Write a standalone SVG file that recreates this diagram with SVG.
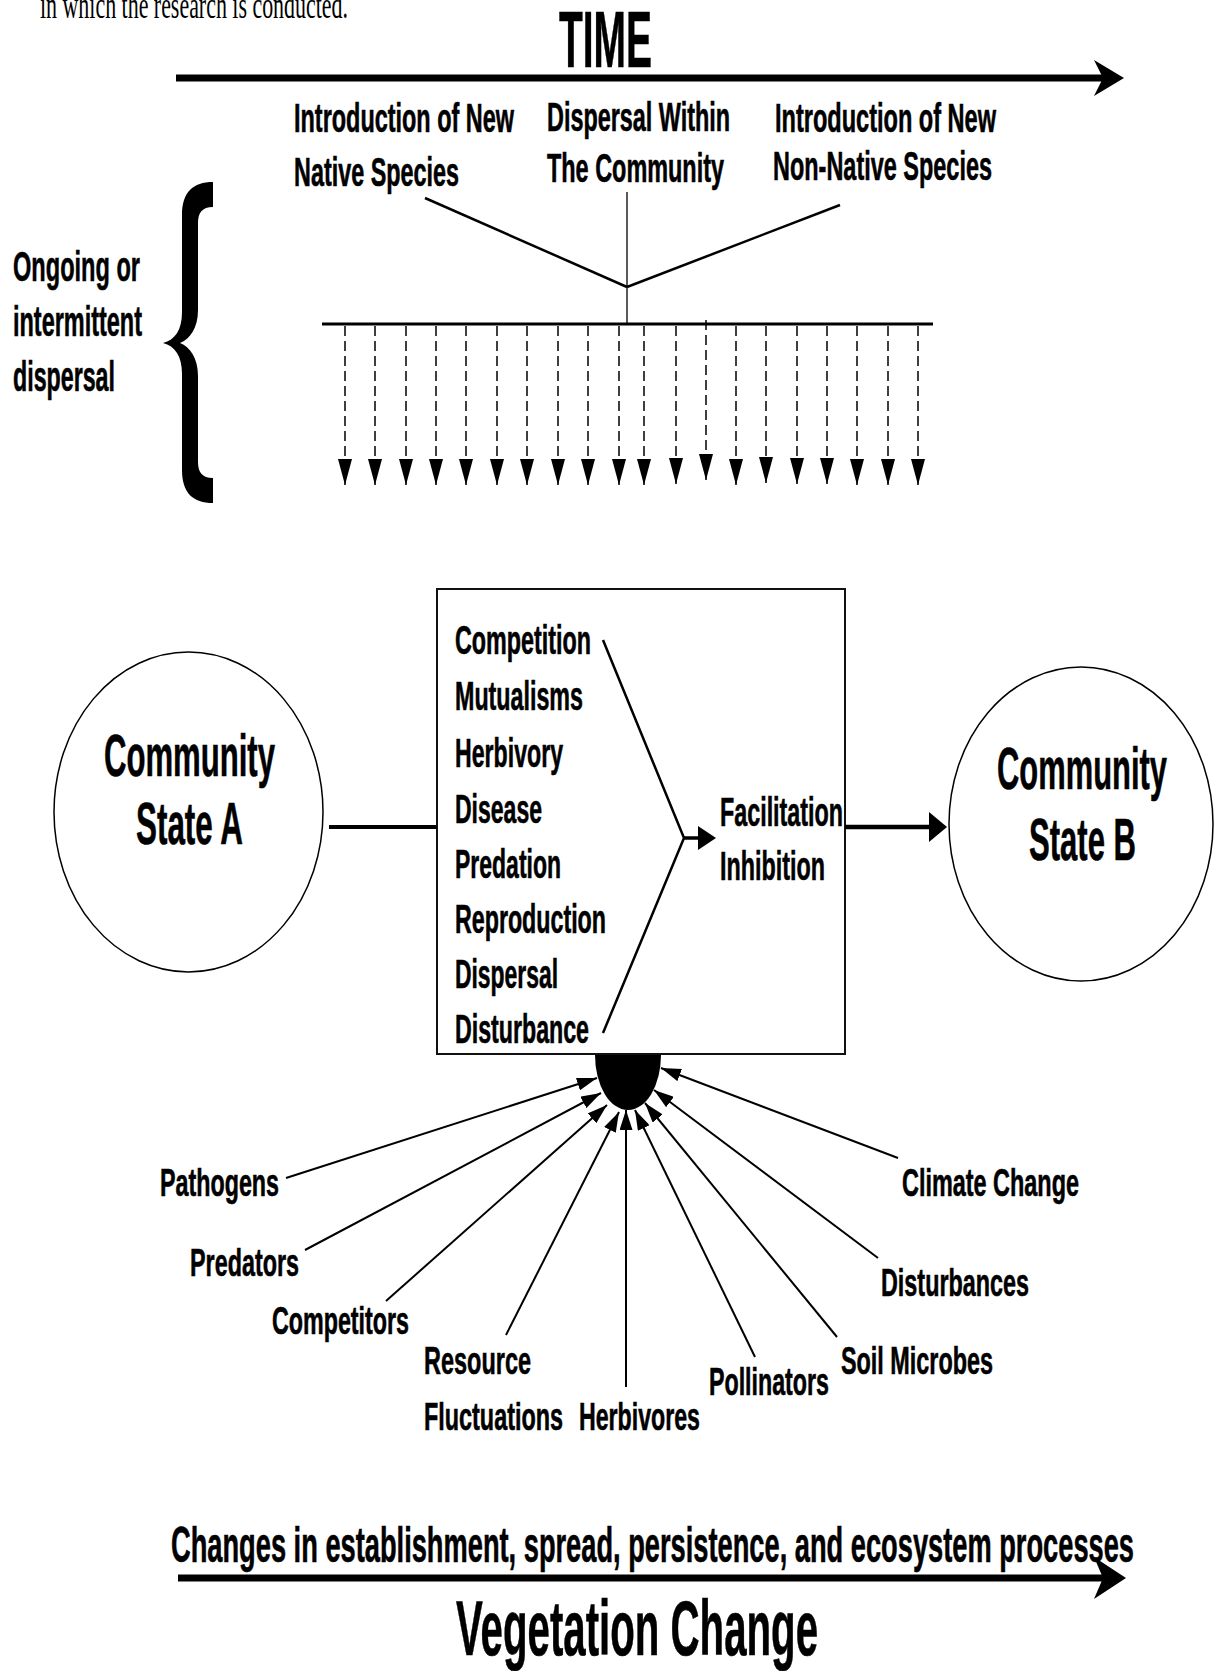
<svg xmlns="http://www.w3.org/2000/svg" width="1222" height="1671" viewBox="0 0 1222 1671">
<defs>
<style>
.t{font-family:"Liberation Sans",Arial,sans-serif;font-weight:bold;fill:#000;stroke:#000;stroke-width:0.6}
.m{font-size:40px}
.f{font-size:39px}
.big{font-size:59px}
.ln{stroke:#000;fill:none}
.dash{stroke:#000;stroke-width:1.5;stroke-dasharray:10 5;fill:none}
</style>
<marker id="dh" markerUnits="userSpaceOnUse" markerWidth="26" markerHeight="14" refX="26" refY="7" orient="auto">
<path d="M0,0 L26,7 L0,14 Z" fill="#000"/>
</marker>
<marker id="fh" markerUnits="userSpaceOnUse" markerWidth="20" markerHeight="13" refX="20" refY="6.5" orient="auto">
<path d="M0,0 L20,6.5 L0,13 Z" fill="#000"/>
</marker>
</defs>
<rect width="1222" height="1671" fill="#fff"/>

<text x="40" y="18" font-family="'Liberation Serif',serif" font-size="38" textLength="308" lengthAdjust="spacingAndGlyphs">in which the research is conducted.</text>

<g id="time">
<text class="t" x="559" y="67" font-size="79" textLength="93" lengthAdjust="spacingAndGlyphs">TIME</text>
<line x1="176" y1="78" x2="1104" y2="78" stroke="#000" stroke-width="7"/>
<polygon points="1094,60 1124,78 1094,96 1103,78" fill="#000"/>
</g>

<g id="source-native">
<text class="t m" x="294" y="132" textLength="220" lengthAdjust="spacingAndGlyphs">Introduction of New</text>
<text class="t m" x="294" y="186" textLength="165" lengthAdjust="spacingAndGlyphs">Native Species</text>
</g>
<g id="source-within">
<text class="t m" x="547" y="131" textLength="183" lengthAdjust="spacingAndGlyphs">Dispersal Within</text>
<text class="t m" x="547" y="182" textLength="177" lengthAdjust="spacingAndGlyphs">The Community</text>
</g>
<g id="source-nonnative">
<text class="t m" x="775" y="132" textLength="221" lengthAdjust="spacingAndGlyphs">Introduction of New</text>
<text class="t m" x="773" y="180" textLength="219" lengthAdjust="spacingAndGlyphs">Non-Native Species</text>
</g>

<g id="ongoing">
<text class="t" font-size="43" x="13" y="281" textLength="127" lengthAdjust="spacingAndGlyphs">Ongoing or</text>
<text class="t" font-size="43" x="13" y="336" textLength="129" lengthAdjust="spacingAndGlyphs">intermittent</text>
<text class="t" font-size="43" x="13" y="391" textLength="102" lengthAdjust="spacingAndGlyphs">dispersal</text>
<path d="M213 182 C193 182 182 192 182 215 L182 312 C182 330 175 340 163 343 C175 346 182 356 182 374 L182 470 C182 493 193 503 213 503 L213 478 C202 478 198 472 198 462 L198 376 C198 358 190 347 180 343 C190 339 198 328 198 310 L198 223 C198 213 202 207 213 207 Z" fill="#000"/>
</g>

<g id="dispersal-connectors">
<line class="ln" x1="425" y1="198" x2="627" y2="287" stroke-width="2.5"/>
<line class="ln" x1="840" y1="205" x2="627" y2="287" stroke-width="2.5"/>
<line class="ln" x1="627" y1="192" x2="627" y2="324" stroke-width="1.3"/>
<line class="ln" x1="322" y1="324" x2="933" y2="324" stroke-width="3"/>
<g marker-end="url(#dh)">
<line class="dash" x1="345" y1="326" x2="345" y2="485"/>
<line class="dash" x1="375" y1="326" x2="375" y2="485"/>
<line class="dash" x1="406" y1="326" x2="406" y2="485"/>
<line class="dash" x1="436" y1="326" x2="436" y2="485"/>
<line class="dash" x1="466" y1="326" x2="466" y2="485"/>
<line class="dash" x1="497" y1="326" x2="497" y2="485"/>
<line class="dash" x1="527" y1="326" x2="527" y2="485"/>
<line class="dash" x1="558" y1="326" x2="558" y2="485"/>
<line class="dash" x1="588" y1="326" x2="588" y2="485"/>
<line class="dash" x1="619" y1="326" x2="619" y2="485"/>
<line class="dash" x1="644" y1="326" x2="644" y2="485"/>
<line class="dash" x1="676" y1="326" x2="676" y2="484"/>
<line class="dash" x1="706" y1="320" x2="706" y2="480"/>
<line class="dash" x1="736" y1="326" x2="736" y2="485"/>
<line class="dash" x1="766" y1="326" x2="766" y2="483"/>
<line class="dash" x1="797" y1="326" x2="797" y2="484"/>
<line class="dash" x1="827" y1="326" x2="827" y2="484"/>
<line class="dash" x1="857" y1="326" x2="857" y2="485"/>
<line class="dash" x1="888" y1="326" x2="888" y2="485"/>
<line class="dash" x1="918" y1="326" x2="918" y2="485"/>
</g>
</g>

<g id="state-a">
<ellipse cx="188.5" cy="812" rx="134.5" ry="160" fill="#fff" stroke="#000" stroke-width="1.5"/>
<text class="t big" x="104" y="776" textLength="171" lengthAdjust="spacingAndGlyphs">Community</text>
<text class="t big" x="136" y="844" textLength="107" lengthAdjust="spacingAndGlyphs">State A</text>
</g>

<g id="state-b">
<ellipse cx="1081" cy="824" rx="132" ry="157" fill="#fff" stroke="#000" stroke-width="1.5"/>
<text class="t big" x="997" y="789" textLength="170" lengthAdjust="spacingAndGlyphs">Community</text>
<text class="t big" x="1029" y="860" textLength="107" lengthAdjust="spacingAndGlyphs">State B</text>
</g>

<g id="interactions">
<rect x="437" y="589" width="408" height="465" fill="#fff" stroke="#111" stroke-width="2"/>
<text class="t m" x="455" y="654" textLength="136" lengthAdjust="spacingAndGlyphs">Competition</text>
<text class="t m" x="455" y="710" textLength="128" lengthAdjust="spacingAndGlyphs">Mutualisms</text>
<text class="t m" x="455" y="767" textLength="108" lengthAdjust="spacingAndGlyphs">Herbivory</text>
<text class="t m" x="455" y="823" textLength="87" lengthAdjust="spacingAndGlyphs">Disease</text>
<text class="t m" x="455" y="878" textLength="106" lengthAdjust="spacingAndGlyphs">Predation</text>
<text class="t m" x="455" y="933" textLength="151" lengthAdjust="spacingAndGlyphs">Reproduction</text>
<text class="t m" x="455" y="988" textLength="103" lengthAdjust="spacingAndGlyphs">Dispersal</text>
<text class="t m" x="455" y="1043" textLength="134" lengthAdjust="spacingAndGlyphs">Disturbance</text>
<text class="t m" x="720" y="826" textLength="123" lengthAdjust="spacingAndGlyphs">Facilitation</text>
<text class="t m" x="720" y="880" textLength="105" lengthAdjust="spacingAndGlyphs">Inhibition</text>
<path d="M603 640 L684 838 L603 1033" class="ln" stroke-width="2.5"/>
<line x1="684" y1="838" x2="700" y2="838" stroke="#000" stroke-width="3.5"/>
<polygon points="698,826 716,838 698,850" fill="#000"/>
</g>

<g id="blob">
<path d="M595 1055 A33 55 0 0 0 661 1055 Z" fill="#000"/>
</g>

<g id="connectors">
<line x1="329" y1="827" x2="437" y2="827" stroke="#000" stroke-width="4"/>
<line x1="845" y1="827" x2="931" y2="827" stroke="#000" stroke-width="4.5"/>
<polygon points="929,812 947,827 929,842" fill="#000"/>
<g class="ln" stroke-width="2" marker-end="url(#fh)">
<line x1="286" y1="1178" x2="597" y2="1078"/>
<line x1="305" y1="1250" x2="601" y2="1093"/>
<line x1="386" y1="1301" x2="607" y2="1105"/>
<line x1="506" y1="1335" x2="619" y2="1112"/>
<line x1="626" y1="1387" x2="626" y2="1110"/>
<line x1="755" y1="1357" x2="635" y2="1110"/>
<line x1="837" y1="1337" x2="645" y2="1103"/>
<line x1="878" y1="1258" x2="654" y2="1090"/>
<line x1="898" y1="1158" x2="661" y2="1068"/>
</g>
</g>

<g id="factors">
<text class="t f" x="160" y="1196" textLength="119" lengthAdjust="spacingAndGlyphs">Pathogens</text>
<text class="t f" x="190" y="1276" textLength="109" lengthAdjust="spacingAndGlyphs">Predators</text>
<text class="t f" x="272" y="1334" textLength="137" lengthAdjust="spacingAndGlyphs">Competitors</text>
<text class="t f" x="424" y="1374" textLength="107" lengthAdjust="spacingAndGlyphs">Resource</text>
<text class="t f" x="424" y="1430" textLength="139" lengthAdjust="spacingAndGlyphs">Fluctuations</text>
<text class="t f" x="579" y="1430" textLength="121" lengthAdjust="spacingAndGlyphs">Herbivores</text>
<text class="t f" x="709" y="1395" textLength="120" lengthAdjust="spacingAndGlyphs">Pollinators</text>
<text class="t f" x="841" y="1374" textLength="152" lengthAdjust="spacingAndGlyphs">Soil Microbes</text>
<text class="t f" x="881" y="1296" textLength="148" lengthAdjust="spacingAndGlyphs">Disturbances</text>
<text class="t f" x="902" y="1196" textLength="177" lengthAdjust="spacingAndGlyphs">Climate Change</text>
</g>

<g id="vegetation">
<text class="t" font-size="50" x="171" y="1562" textLength="963" lengthAdjust="spacingAndGlyphs">Changes in establishment, spread, persistence, and ecosystem processes</text>
<line x1="178" y1="1578" x2="1104" y2="1578" stroke="#000" stroke-width="7"/>
<polygon points="1094,1557 1126,1578 1094,1599 1103,1578" fill="#000"/>
<text class="t" font-size="78" x="456" y="1655" textLength="362" lengthAdjust="spacingAndGlyphs">Vegetation Change</text>
</g>
</svg>
